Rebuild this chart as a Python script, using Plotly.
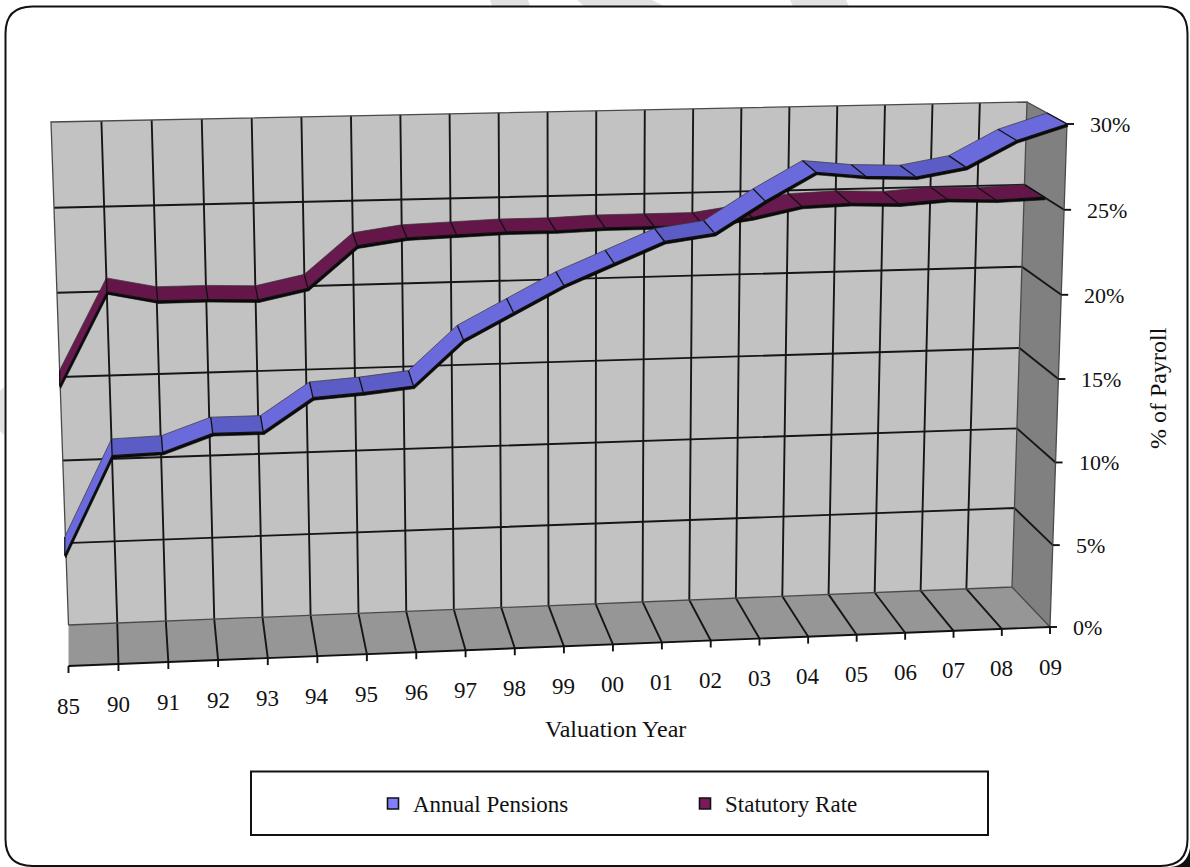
import plotly.graph_objects as go

# ---------- data ----------
years = ["85", "90", "91", "92", "93", "94", "95", "96", "97", "98", "99",
         "00", "01", "02", "03", "04", "05", "06", "07", "08", "09"]
annual_pensions = [6.5, 12.2, 12.3, 13.3, 13.3, 15.2, 15.4, 15.7, 18.3, 19.8, 21.3,
                   22.5, 23.7, 24.1, 25.9, 27.5, 27.2, 27.1, 27.6, 29.1, 30.0]
statutory_rate = [15.4, 20.8, 20.2, 20.2, 20.1, 20.7, 23.1, 23.5, 23.6, 23.7, 23.7,
                  23.8, 23.8, 23.8, 24.2, 24.8, 24.9, 24.8, 25.0, 24.9, 25.0]
value_ticks = [0, 5, 10, 15, 20, 25, 30]

W, H = 1190, 867
N = len(years) - 1

# ---------- view of the 3-D box (page pixels of its corners) ----------
FRONT = dict(bl=(68.5, 666), br=(1050, 627), tl=(51, 144), tr=(1067, 124))
BACK = dict(bl=(68.5, 625), br=(1012, 587), tl=(51, 122), tr=(1027, 102))
X0, XS = 68.5, 49.075      # page x of category 0, pixels per category
Y0, YS = 627.0, 16.767     # page y of 0 %, pixels per percent


def dx(px):
    return (px - X0) / XS


def dy(py):
    return (Y0 - py) / YS


def project_px(i, v, d):
    s = i / N
    t = v / 30
    t = t - 0.028 * t * (1 - t)
    res = []
    for q, c in ((FRONT, -0.019), (BACK, -0.035)):
        u = s - c * s * (1 - s)
        ub = tuple(q["bl"][k] + (q["br"][k] - q["bl"][k]) * u for k in (0, 1))
        ut = tuple(q["tl"][k] + (q["tr"][k] - q["tl"][k]) * u for k in (0, 1))
        res.append(tuple(ub[k] + (ut[k] - ub[k]) * t for k in (0, 1)))
    return tuple(res[0][k] * (1 - d) + res[1][k] * d for k in (0, 1))


def project(i, v, d):
    px, py = project_px(i, v, d)
    return dx(px), dy(py)


def poly(points, color):
    xs, ys = zip(*points)
    return go.Scatter(x=list(xs) + [xs[0]], y=list(ys) + [ys[0]], mode="lines", fill="toself",
                      fillcolor=color, line=dict(width=0), hoverinfo="skip", showlegend=False)


def lines(segments, color="#111111", width=1.5):
    xs, ys = [], []
    for seg in segments:
        for p in seg:
            xs.append(p[0])
            ys.append(p[1])
        xs.append(None)
        ys.append(None)
    return go.Scatter(x=xs, y=ys, mode="lines", line=dict(color=color, width=width),
                      hoverinfo="skip", showlegend=False)


def polys(polygons, color, outline=None):
    xs, ys = [], []
    for pl in polygons:
        for p in pl + [pl[0]]:
            xs.append(p[0])
            ys.append(p[1])
        xs.append(None)
        ys.append(None)
    return go.Scatter(x=xs, y=ys, mode="lines", fill="toself", fillcolor=color,
                      line=dict(width=0.6 if outline else 0, color=outline or color),
                      hoverinfo="skip", showlegend=False)


fig = go.Figure()

# walls and floor
fig.add_trace(poly([project(0, 0, 1), project(N, 0, 1), project(N, 30, 1), project(0, 30, 1)], "#c2c2c2"))
fig.add_trace(poly([project(0, 0, 0), project(N, 0, 0), project(N, 0, 1), project(0, 0, 1)], "#969696"))
fig.add_trace(poly([project(N, 0, 0), project(N, 30, 0), project(N, 30, 1), project(N, 0, 1)], "#808080"))

# gridlines
grid = []
for v in value_ticks[1:-1]:
    grid.append([project(0, v, 1), project(N, v, 1), project(N, v, 0)])
for i in range(1, N):
    grid.append([project(i, 0, 0), project(i, 0, 1), project(i, 30, 1)])
fig.add_trace(lines(grid, "#161616", 1.9))
edges = [[project(0, 0, 1), project(0, 30, 1), project(N, 30, 1), project(N, 0, 1), project(0, 0, 1)],
         [project(N, 30, 1), project(N, 30, 0), project(N, 0, 0), project(N, 0, 1)]]
fig.add_trace(lines(edges, "#4a4a4a", 1.3))

# axis lines and tick marks
tick_segs = [[project(0, 0, 0), project(N, 0, 0)]]
for i in range(N + 1):
    px, py = project_px(i, 0, 0)
    tick_segs.append([(dx(px), dy(py)), (dx(px), dy(py + 7))])
for v in value_ticks:
    px, py = project_px(N, v, 0)
    tick_segs.append([(dx(px), dy(py)), (dx(px + 7), dy(py))])
fig.add_trace(lines(tick_segs, "#111111", 1.9))


def ribbon(values, d_front, d_back, light, dark):
    n = len(values)
    front = [project_px(i, values[i], d_front) for i in range(n)]
    back = [project_px(i, values[i], d_back) for i in range(n)]
    strip = []
    rising, flat = [], []
    for i in range(n - 1):
        f0, f1, b0, b1 = front[i], front[i + 1], back[i], back[i + 1]
        strip.append([(dx(f0[0]), dy(f0[1])), (dx(f1[0]), dy(f1[1])),
                      (dx(f1[0] + 1), dy(f1[1] + 2.5)), (dx(f0[0] + 1), dy(f0[1] + 2.5))])
        face = [(dx(f0[0]), dy(f0[1])), (dx(f1[0]), dy(f1[1])),
                (dx(b1[0]), dy(b1[1])), (dx(b0[0]), dy(b0[1]))]
        (rising if values[i + 1] - values[i] > 0.5 else flat).append(face)
    fig.add_trace(polys(strip, "#0a0a0a", "#0a0a0a"))
    fig.add_trace(polys(rising, light))
    if flat:
        fig.add_trace(polys(flat, dark))
    outline = [[(dx(f[0]), dy(f[1])), (dx(b[0]), dy(b[1]))] for f, b in zip(front, back)]
    outline.append([(dx(p[0]), dy(p[1])) for p in front])
    fig.add_trace(lines(outline, "#111111", 1.3))
    fig.add_trace(lines([[(dx(p[0]), dy(p[1])) for p in back]], "#333333", 0.7))


ribbon(statutory_rate, 0.5, 1.0, "#681a4e", "#641648")
ribbon(annual_pensions, 0.0, 0.5, "#6a6adc", "#5c5cc6")

# legend entries
for name, color in (("Annual Pensions", "#8080ff"), ("Statutory Rate", "#7a1a5c")):
    fig.add_trace(go.Scatter(x=[None], y=[None], mode="markers", name=name,
                             marker=dict(symbol="square", size=11, color=color,
                                         line=dict(color="#111111", width=1.6))))

SERIF = "Liberation Serif, Times New Roman, serif"
annotations = []
for i, lab in enumerate(years):
    px, py = project_px(i, 0, 0)
    annotations.append(dict(x=dx(px), y=dy(py + 40), text=lab, showarrow=False, font_size=23,
                            xanchor="center", yanchor="middle"))
for v in value_ticks:
    px, py = project_px(N, v, 0)
    annotations.append(dict(x=dx(px + 21), y=dy(py + 0.5), text=f"{v}%", showarrow=False, font_size=22,
                            xanchor="left", yanchor="middle"))
annotations.append(dict(x=dx(615), y=dy(729), text="Valuation Year", showarrow=False, font_size=24,
                        xanchor="center", yanchor="middle"))
annotations.append(dict(x=dx(1158), y=dy(388), text="% of Payroll", showarrow=False, textangle=-90, font_size=24,
                        xanchor="center", yanchor="middle"))
for a in annotations:
    size = a.pop("font_size")
    a.update(xref="x", yref="y", font=dict(family=SERIF, size=size, color="#111111"))


def path_px(pts):
    return "M " + " L ".join(f"{p[0]},{p[1]}" for p in pts) + " Z"


L, T, R, B, r = 5.5, 6.5, 1187.5, 866, 27
border = (f"M {L + r},{T} L {R - r},{T} Q {R},{T} {R},{T + r} L {R},{B - r} Q {R},{B} {R - r},{B} "
          f"L {L + r},{B} Q {L},{B} {L},{B - r} L {L},{T + r} Q {L},{T} {L + r},{T} Z")

shapes = []
for pts in ([(490, 0), (528, 0), (530, 6), (492, 6)],
            [(577, 0), (652, 0), (664, 6), (584, 6)],
            [(790, 0), (846, 0), (849, 6), (793, 6)],
            [(0, 391), (4, 387), (4, 435), (0, 431)]):
    shapes.append(dict(type="path", xref="x2", yref="y2", path=path_px(pts), fillcolor="#e2e2e2",
                       line=dict(width=0), layer="below"))
shapes.append(dict(type="path", xref="x2", yref="y2", path=border, line=dict(color="#111111", width=2),
                   fillcolor="rgba(0,0,0,0)", layer="below"))
shapes.append(dict(type="path", xref="x2", yref="y2",
                   path=f"M {W},{B - 18} Q {W - 3},{B} {W - 20},{H} L {W},{H} Z",
                   fillcolor="#111111", line=dict(width=0), layer="below"))
shapes.append(dict(type="rect", xref="x2", yref="y2", x0=251, x1=988, y0=771.5, y1=835,
                   line=dict(color="#111111", width=2), fillcolor="white", layer="below"))

fig.update_layout(
    width=W, height=H, autosize=False,
    margin=dict(l=0, r=0, t=0, b=0),
    paper_bgcolor="white", plot_bgcolor="rgba(0,0,0,0)",
    xaxis=dict(range=[dx(0), dx(W)], visible=False, fixedrange=True, domain=[0, 1]),
    yaxis=dict(range=[dy(H), dy(0)], visible=False, fixedrange=True, domain=[0, 1]),
    xaxis2=dict(range=[0, W], visible=False, overlaying="x", fixedrange=True),
    yaxis2=dict(range=[H, 0], visible=False, overlaying="y", fixedrange=True),
    annotations=annotations,
    shapes=shapes,
    showlegend=True,
    legend=dict(orientation="h", x=373 / W, y=1 - 803.5 / H, xanchor="left", yanchor="middle",
                bgcolor="rgba(0,0,0,0)", borderwidth=0,
                font=dict(family=SERIF, size=23, color="#111111"),
                entrywidth=267, entrywidthmode="pixels", tracegroupgap=0, itemclick=False,
                itemdoubleclick=False),
)
# keep the overlay axes alive with an empty trace
fig.add_trace(go.Scatter(x=[None], y=[None], xaxis="x2", yaxis="y2", showlegend=False, hoverinfo="skip"))

fig.write_html("out.html", config=dict(displayModeBar=False),
               post_script="document.body.style.margin='0';document.documentElement.style.overflow='hidden';")
